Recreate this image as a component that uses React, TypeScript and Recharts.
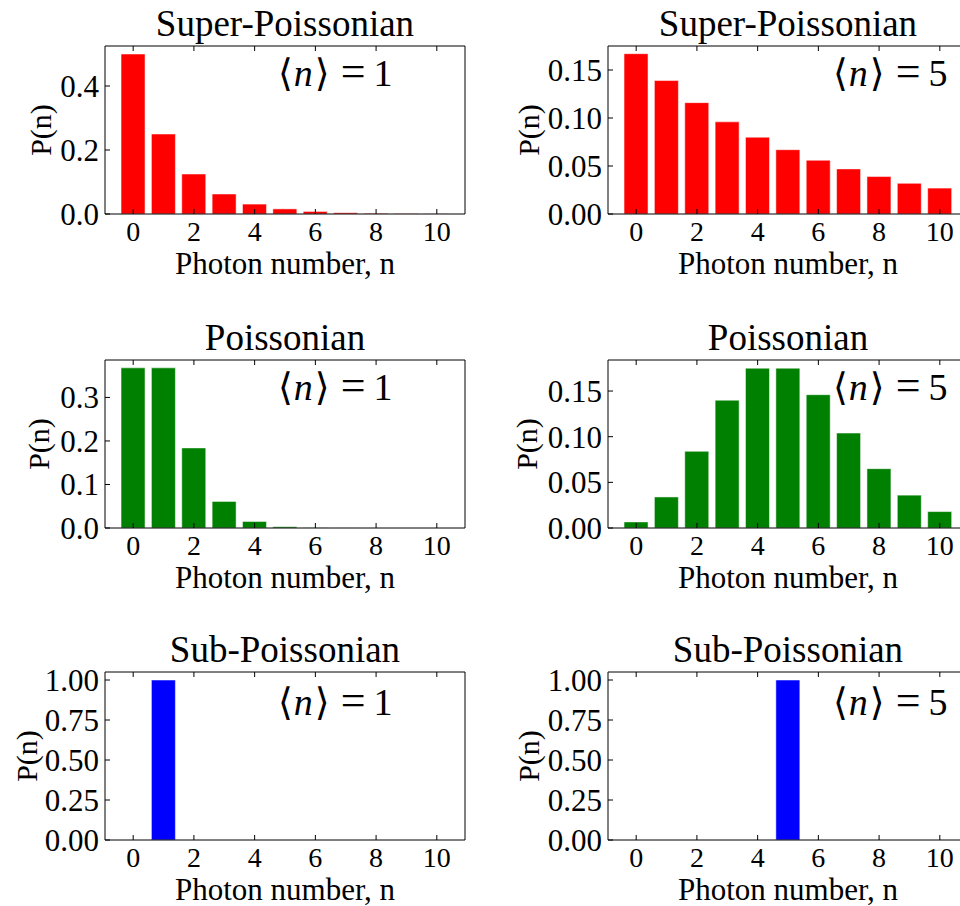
import { BarChart, Bar, XAxis, YAxis } from "recharts";

const photonNumbers = [0, 1, 2, 3, 4, 5, 6, 7, 8, 9, 10];

const superMean1 = [0.5, 0.25, 0.125, 0.0625, 0.031, 0.016, 0.008, 0.004, 0.002, 0.001, 0.0005];
const superMean5 = [0.167, 0.139, 0.116, 0.096, 0.08, 0.067, 0.056, 0.047, 0.039, 0.032, 0.027];
const poissonMean1 = [0.368, 0.368, 0.184, 0.061, 0.015, 0.003, 0.0005, 0.0001, 0, 0, 0];
const poissonMean5 = [0.0067, 0.034, 0.084, 0.14, 0.175, 0.175, 0.146, 0.104, 0.065, 0.036, 0.018];
const subMean1 = [0, 1, 0, 0, 0, 0, 0, 0, 0, 0, 0];
const subMean5 = [0, 0, 0, 0, 0, 1, 0, 0, 0, 0, 0];

const ticksSuper1 = [0, 0.2, 0.4];
const ticksSuper5 = [0, 0.05, 0.1, 0.15];
const ticksPoisson1 = [0, 0.1, 0.2, 0.3];
const ticksPoisson5 = [0, 0.05, 0.1, 0.15];
const ticksSub = [0, 0.25, 0.5, 0.75, 1];

const rowTitles = ["Super-Poissonian", "Poissonian", "Sub-Poissonian"];
const meanLabels = ["1", "5"];

const FONT = "Liberation Serif";
const MATH_FONT = "DejaVu Serif";
const PLOT_W = 360;
const PLOT_H = 168;
const colLeft = [105, 608];
const rowTop = [46, 360, 672];

interface PanelProps {
  values: number[];
  color: string;
  yMax: number;
  yTicks: number[];
  decimals: number;
  left: number;
  top: number;
  labelGap: number;
}

function Panel({ values, color, yMax, yTicks, decimals, left, top, labelGap }: PanelProps) {
  const data = photonNumbers.map((n, i) => ({ n, p: values[i] }));
  const pad = { left: 13, right: 13 };

  const xTick = (props: any) => (
    <text
      x={props.x}
      y={props.y}
      dy="0.71em"
      textAnchor="middle"
      fontSize={28}
      fontFamily={FONT}
      fill="#000"
    >
      {props.payload.value}
    </text>
  );

  const yTick = (props: any) => (
    <text
      x={props.x}
      y={props.y}
      dy="0.355em"
      textAnchor="end"
      fontSize={31}
      fontFamily={FONT}
      fill="#000"
    >
      {Number(props.payload.value).toFixed(decimals)}
    </text>
  );

  return (
    <div style={{ position: "absolute", left: left - 100, top: top - 10, fontFamily: FONT }}>
      <BarChart
        width={100 + PLOT_W + 10}
        height={10 + PLOT_H + 80}
        data={data}
        margin={{ top: 9, right: 9, bottom: 0, left: 0 }}
        barCategoryGap="10%"
      >
        <XAxis
          dataKey="n"
          interval={1}
          padding={pad}
          height={80}
          tickSize={-5}
          tickMargin={12}
          tick={xTick}
          axisLine={{ stroke: "#000" }}
          tickLine={{ stroke: "#000" }}
          label={{
            value: "Photon number, n",
            position: "insideBottom",
            offset: 20,
            fontSize: 31,
            fill: "#000",
            fontFamily: FONT,
          }}
        />
        <XAxis
          xAxisId="top"
          orientation="top"
          dataKey="n"
          interval={1}
          padding={pad}
          height={1}
          tickSize={-5}
          tickFormatter={() => ""}
          axisLine={{ stroke: "#000" }}
          tickLine={{ stroke: "#000" }}
        />
        <YAxis
          domain={[0, yMax]}
          ticks={yTicks}
          width={100}
          tickSize={-5}
          tickMargin={11}
          tick={yTick}
          axisLine={{ stroke: "#000" }}
          tickLine={{ stroke: "#000" }}
          label={(props: any) => {
            const vb = props.viewBox;
            const x = vb.x + vb.width - labelGap;
            const y = vb.y + vb.height / 2;
            return (
              <text
                x={x}
                y={y}
                transform={`rotate(-90, ${x}, ${y})`}
                textAnchor="middle"
                dominantBaseline="central"
                fontSize={30}
                fontFamily={FONT}
                fill="#000"
              >
                P(n)
              </text>
            );
          }}
        />
        <YAxis
          yAxisId="right"
          orientation="right"
          domain={[0, yMax]}
          ticks={yTicks}
          width={1}
          tickSize={-5}
          tickFormatter={() => ""}
          axisLine={{ stroke: "#000" }}
          tickLine={{ stroke: "#000" }}
        />
        <Bar dataKey="p" fill={color} stroke="#ffffff" strokeOpacity={0.5} isAnimationActive={false} />
      </BarChart>
    </div>
  );
}

export default function App() {
  const rows = [
    { color: "#ff0000", series: [superMean1, superMean5], ticks: [ticksSuper1, ticksSuper5], yMax: [0.525, 0.175], decimals: [1, 2], gaps: [65, 80] },
    { color: "#008000", series: [poissonMean1, poissonMean5], ticks: [ticksPoisson1, ticksPoisson5], yMax: [0.386, 0.184], decimals: [1, 2], gaps: [67, 82] },
    { color: "#0000ff", series: [subMean1, subMean5], ticks: [ticksSub, ticksSub], yMax: [1.05, 1.05], decimals: [2, 2], gaps: [79, 80] },
  ];
  const annotX = [278, 833];
  const annotBase = [86, 400, 715];

  return (
    <div
      style={{
        position: "absolute",
        left: 0,
        top: 0,
        width: 960,
        height: 906,
        overflow: "hidden",
        background: "#fff",
        fontFamily: FONT,
      }}
    >
      {rows.map((row, r) =>
        [0, 1].map((c) => (
          <Panel
            key={`${r}-${c}`}
            values={row.series[c]}
            color={row.color}
            yMax={row.yMax[c]}
            yTicks={row.ticks[c]}
            decimals={row.decimals[c]}
            left={colLeft[c]}
            top={rowTop[r]}
            labelGap={row.gaps[c]}
          />
        ))
      )}
      <svg
        width={960}
        height={906}
        style={{ position: "absolute", left: 0, top: 0, pointerEvents: "none" }}
      >
        {rowTitles.map((title, r) =>
          [0, 1].map((c) => (
            <text
              key={`t${r}-${c}`}
              x={colLeft[c] + PLOT_W / 2}
              y={rowTop[r] - 10}
              textAnchor="middle"
              fontSize={37}
              fontFamily={FONT}
              fill="#000"
            >
              {title}
            </text>
          ))
        )}
        {rowTitles.map((_, r) =>
          [0, 1].map((c) => (
            <text
              key={`a${r}-${c}`}
              x={annotX[c]}
              y={annotBase[r]}
              fontSize={38}
              fontFamily={FONT}
              fill="#000"
            >
              <tspan fontFamily={MATH_FONT} fontWeight={200}>⟨</tspan>
              <tspan fontStyle="italic" dx={1}>n</tspan>
              <tspan fontFamily={MATH_FONT} dx={2}>⟩</tspan>
              <tspan dx={11} fontSize={44}>=</tspan>
              <tspan dx={8}>{meanLabels[c]}</tspan>
            </text>
          ))
        )}
      </svg>
    </div>
  );
}
